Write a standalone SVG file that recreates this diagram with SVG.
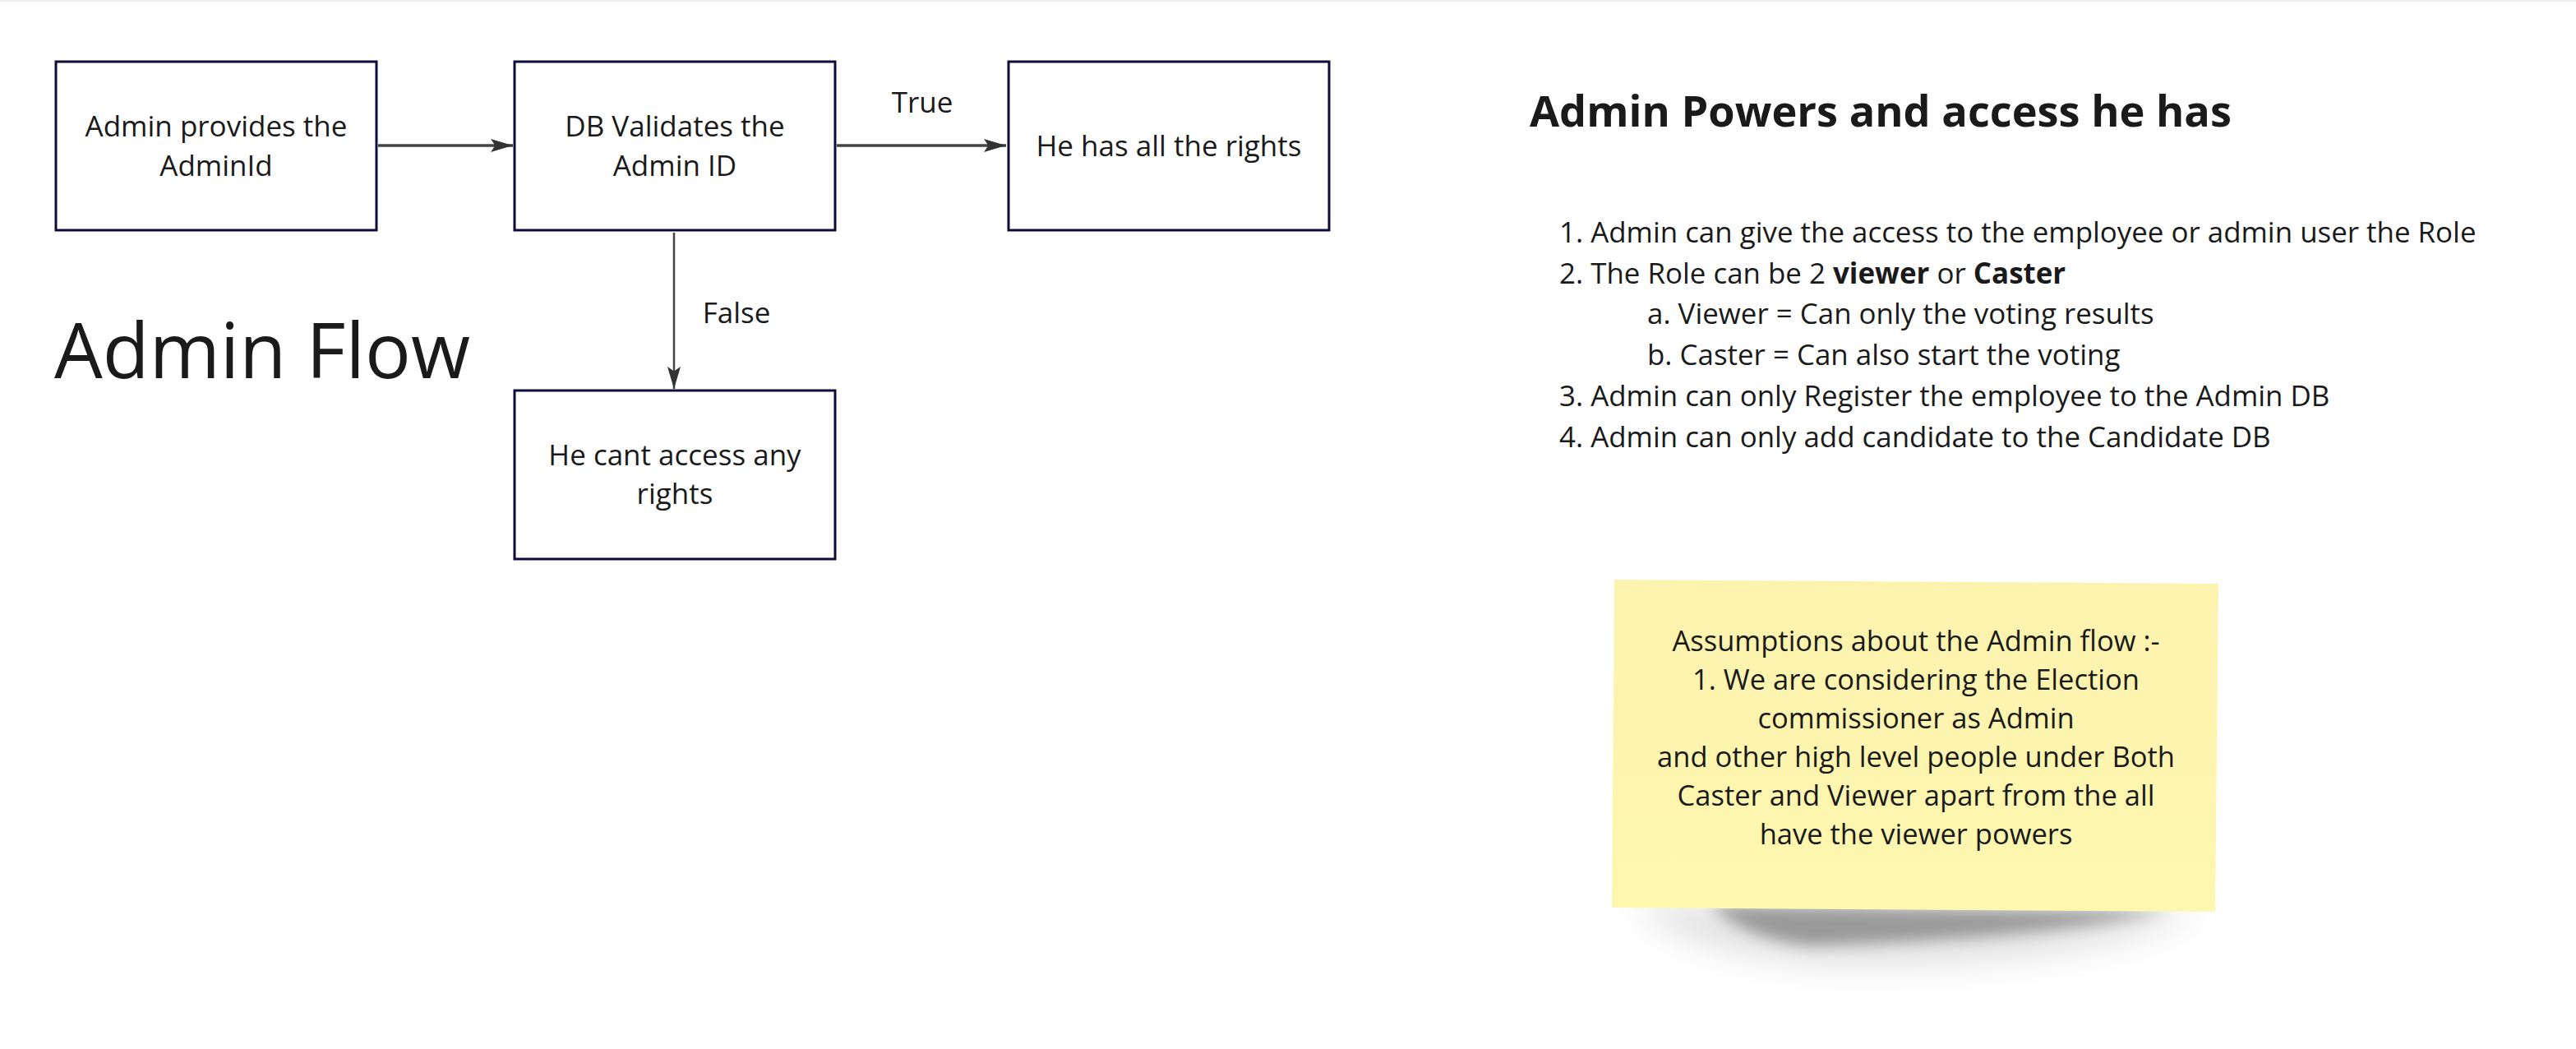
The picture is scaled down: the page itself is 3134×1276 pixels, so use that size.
<svg xmlns="http://www.w3.org/2000/svg" width="3134" height="1276" viewBox="0 0 3134 1276">
<style>
.box{fill:#ffffff;stroke:#0e0c3a;stroke-width:3}
.t{font-family:"Open Sans","Noto Sans","Liberation Sans",sans-serif;font-size:35px;fill:#1a1a1a}
.l{font-size:34.9px}
.n{font-size:34.5px}
.c{text-anchor:middle}
.conn{stroke:#444444;fill:none}
</style>
<defs>
<marker id="ah2" viewBox="0 0 10 10" refX="10" refY="5" markerWidth="27" markerHeight="16" markerUnits="userSpaceOnUse" orient="auto" preserveAspectRatio="none">
<path d="M0,0 L10,5 L0,10 L2,5 Z" fill="#333333"/>
</marker>
<linearGradient id="note" x1="0" y1="0" x2="0" y2="1">
<stop offset="0" stop-color="#fbf3ae"/>
<stop offset="0.15" stop-color="#fcf4ae"/>
<stop offset="1" stop-color="#fef7b0"/>
</linearGradient>
<filter id="blur" x="-20%" y="-100%" width="140%" height="300%">
<feGaussianBlur stdDeviation="9"/>
</filter>
<filter id="blur2" x="-20%" y="-100%" width="140%" height="300%">
<feGaussianBlur stdDeviation="20"/>
</filter>
</defs>
<rect x="0" y="0" width="3134" height="1276" fill="#ffffff"/>
<rect x="0" y="0" width="3134" height="2" fill="#eeeeee"/>

<g id="connectors">
<line class="conn" x1="460" y1="177" x2="624" y2="177" stroke-width="3.5" marker-end="url(#ah2)"/>
<line class="conn" x1="1018" y1="177" x2="1224" y2="177" stroke-width="3.5" marker-end="url(#ah2)"/>
<line class="conn" x1="820" y1="283" x2="820" y2="473" stroke-width="2.5" marker-end="url(#ah2)"/>
<text class="t c" x="1122" y="137">True</text>
<text class="t c" x="896" y="393">False</text>
</g>

<g id="n1">
<rect class="box" x="68" y="75" width="390" height="205"/>
<text class="t c" x="263" y="166">Admin provides the</text>
<text class="t c" x="263" y="214">AdminId</text>
</g>
<g id="n2">
<rect class="box" x="626" y="75" width="390" height="205"/>
<text class="t c" x="821" y="166">DB Validates the</text>
<text class="t c" x="821" y="214">Admin ID</text>
</g>
<g id="n3">
<rect class="box" x="1227" y="75" width="390" height="205"/>
<text class="t c" x="1422" y="190">He has all the rights</text>
</g>
<g id="n4">
<rect class="box" x="626" y="475" width="390" height="205"/>
<text class="t c" x="821" y="566">He cant access any</text>
<text class="t c" x="821" y="613">rights</text>
</g>

<g id="title">
<text x="66" y="460" font-family="'Open Sans','Noto Sans','Liberation Sans',sans-serif" font-size="93" fill="#1a1a1a">Admin Flow</text>
</g>

<g id="powers">
<text x="1861" y="154" font-family="'Open Sans','Noto Sans','Liberation Sans',sans-serif" font-size="52.3" font-weight="bold" fill="#1a1a1a">Admin Powers and access he has</text>
<text class="t l" x="1897" y="295">1. Admin can give the access to the employee or admin user the Role</text>
<text class="t l" x="1897" y="345">2. The Role can be 2 <tspan font-weight="bold">viewer</tspan> or <tspan font-weight="bold">Caster</tspan></text>
<text class="t l" x="2004" y="394">a. Viewer = Can only the voting results</text>
<text class="t l" x="2004" y="444">b. Caster = Can also start the voting</text>
<text class="t l" x="1897" y="494">3. Admin can only Register the employee to the Admin DB</text>
<text class="t l" x="1897" y="544">4. Admin can only add candidate to the Candidate DB</text>
</g>

<g id="note1">
<path d="M2080,1100 L2640,1108 Q2500,1140 2200,1150 Q2120,1140 2080,1100 Z" fill="#000000" opacity="0.32" filter="url(#blur)"/>
<path d="M1990,1100 L2680,1108 Q2560,1170 2250,1175 Q2040,1160 1990,1100 Z" fill="#000000" opacity="0.12" filter="url(#blur2)"/>
<polygon points="1964,705 2699,710 2695,1109 1961,1104" fill="url(#note)"/>
<text class="t n c" x="2331" y="792">Assumptions about the Admin flow :-</text>
<text class="t n c" x="2331" y="839">1. We are considering the Election</text>
<text class="t n c" x="2331" y="886">commissioner as Admin</text>
<text class="t n c" x="2331" y="933">and other high level people under Both</text>
<text class="t n c" x="2331" y="980">Caster and Viewer apart from the all</text>
<text class="t n c" x="2331" y="1027">have the viewer powers</text>
</g>
</svg>
